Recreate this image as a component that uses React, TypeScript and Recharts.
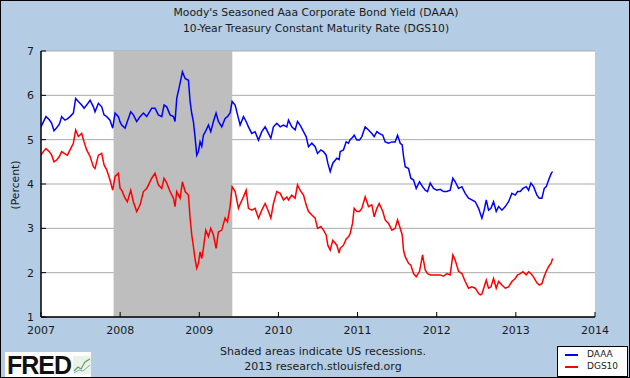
import React from 'react';
import { LineChart, Line, XAxis, YAxis, CartesianGrid, ReferenceArea } from 'recharts';

// Decimal-year dates (sampled readings)
const dates = [
  2007.000, 2007.030, 2007.063, 2007.105, 2007.135, 2007.164, 2007.198, 2007.232, 2007.261, 2007.303,
  2007.333, 2007.367, 2007.409, 2007.438, 2007.472, 2007.514, 2007.544, 2007.577, 2007.620, 2007.662,
  2007.683, 2007.725, 2007.767, 2007.797, 2007.830, 2007.872, 2007.906, 2007.936, 2007.978, 2007.999,
  2008.020, 2008.062, 2008.091, 2008.134, 2008.167, 2008.209, 2008.252, 2008.294, 2008.336, 2008.399,
  2008.441, 2008.483, 2008.526, 2008.555, 2008.589, 2008.631, 2008.673, 2008.694, 2008.715, 2008.757,
  2008.787, 2008.821, 2008.863, 2008.884, 2008.905, 2008.926, 2008.947, 2008.968, 2008.989, 2009.010,
  2009.031, 2009.052, 2009.082, 2009.116, 2009.145, 2009.179, 2009.212, 2009.242, 2009.284, 2009.326,
  2009.356, 2009.389, 2009.415, 2009.453, 2009.495, 2009.516, 2009.558, 2009.592, 2009.621, 2009.663,
  2009.705, 2009.748, 2009.790, 2009.832, 2009.874, 2009.904, 2009.937, 2009.979, 2010.022, 2010.064,
  2010.106, 2010.127, 2010.169, 2010.211, 2010.241, 2010.274, 2010.317, 2010.350, 2010.380, 2010.422,
  2010.464, 2010.494, 2010.536, 2010.569, 2010.603, 2010.624, 2010.654, 2010.687, 2010.738, 2010.767,
  2010.780, 2010.822, 2010.856, 2010.885, 2010.906, 2010.936, 2010.957, 2010.991, 2011.024, 2011.054,
  2011.096, 2011.138, 2011.180, 2011.210, 2011.244, 2011.273, 2011.319, 2011.349, 2011.391, 2011.433,
  2011.475, 2011.505, 2011.539, 2011.564, 2011.581, 2011.602, 2011.644, 2011.673, 2011.707, 2011.741,
  2011.783, 2011.821, 2011.855, 2011.884, 2011.918, 2011.960, 2012.002, 2012.044, 2012.086, 2012.128,
  2012.170, 2012.204, 2012.234, 2012.276, 2012.318, 2012.360, 2012.402, 2012.444, 2012.487, 2012.529,
  2012.550, 2012.571, 2012.600, 2012.626, 2012.655, 2012.685, 2012.718, 2012.752, 2012.782, 2012.824,
  2012.866, 2012.908, 2012.950, 2012.992, 2013.022, 2013.055, 2013.089, 2013.131, 2013.161, 2013.190,
  2013.224, 2013.266, 2013.296, 2013.329, 2013.359, 2013.384, 2013.414, 2013.447, 2013.464,
];

// Moody's Seasoned Aaa Corporate Bond Yield (DAAA), percent
const daaa = [
  5.29, 5.40, 5.52, 5.45, 5.37, 5.20, 5.27, 5.35, 5.52, 5.44,
  5.47, 5.52, 5.60, 5.93, 5.86, 5.78, 5.71, 5.78, 5.89, 5.74,
  5.63, 5.82, 5.74, 5.56, 5.52, 5.44, 5.26, 5.60, 5.52, 5.40,
  5.33, 5.26, 5.41, 5.63, 5.56, 5.41, 5.52, 5.60, 5.52, 5.71,
  5.71, 5.56, 5.52, 5.78, 5.74, 5.56, 5.52, 5.41, 5.93, 6.27,
  6.53, 6.38, 6.34, 5.86, 5.59, 5.40, 5.05, 4.65, 4.73, 4.95,
  4.85, 5.10, 5.20, 5.33, 5.18, 5.41, 5.60, 5.41, 5.29, 5.48,
  5.52, 5.60, 5.86, 5.78, 5.48, 5.33, 5.52, 5.41, 5.29, 5.14,
  5.18, 4.99, 5.18, 5.29, 5.14, 5.03, 5.29, 5.37, 5.29, 5.33,
  5.29, 5.44, 5.29, 5.22, 5.41, 5.33, 5.18, 5.07, 4.84, 4.92,
  4.84, 4.69, 4.77, 4.73, 4.65, 4.47, 4.28, 4.47, 4.58, 4.55,
  4.73, 4.77, 4.95, 4.92, 5.00, 5.05, 5.10, 4.99, 4.99, 5.07,
  5.29, 5.22, 5.14, 5.07, 5.18, 5.14, 5.10, 4.95, 4.92, 4.95,
  4.95, 5.10, 4.92, 4.88, 4.62, 4.39, 4.35, 4.13, 4.09, 3.90,
  4.05, 3.94, 3.86, 3.83, 4.02, 3.90, 3.86, 3.88, 3.83, 3.83,
  3.86, 4.13, 4.05, 3.90, 3.94, 3.79, 3.68, 3.64, 3.60, 3.45,
  3.34, 3.23, 3.41, 3.64, 3.41, 3.45, 3.60, 3.38, 3.49, 3.41,
  3.49, 3.60, 3.79, 3.75, 3.83, 3.83, 3.90, 3.94, 3.86, 4.02,
  3.94, 3.75, 3.68, 3.68, 3.90, 3.94, 4.09, 4.24, 4.28,
];

// 10-Year Treasury Constant Maturity Rate (DGS10), percent
const dgs10 = [
  4.65, 4.73, 4.80, 4.73, 4.65, 4.50, 4.54, 4.62, 4.73, 4.68,
  4.65, 4.77, 4.92, 5.22, 5.07, 5.14, 4.95, 4.77, 4.62, 4.39,
  4.35, 4.65, 4.69, 4.43, 4.32, 4.09, 3.86, 4.17, 4.24, 3.90,
  3.86, 3.68, 3.60, 3.86, 3.60, 3.38, 3.53, 3.83, 3.90, 4.13,
  4.24, 3.98, 3.90, 4.13, 4.02, 3.83, 3.68, 3.49, 3.83, 3.68,
  4.05, 3.83, 3.75, 3.23, 2.85, 2.59, 2.30, 2.10, 2.21, 2.47,
  2.32, 2.55, 2.96, 2.81, 3.00, 2.85, 2.55, 2.92, 2.96, 3.23,
  3.15, 3.49, 3.94, 3.83, 3.45, 3.55, 3.71, 3.86, 3.45, 3.41,
  3.45, 3.23, 3.41, 3.56, 3.38, 3.23, 3.56, 3.83, 3.79, 3.64,
  3.71, 3.64, 3.75, 3.68, 3.98, 3.86, 3.75, 3.53, 3.38, 3.30,
  3.23, 3.00, 3.04, 2.96, 2.85, 2.62, 2.51, 2.73, 2.62, 2.44,
  2.55, 2.62, 2.76, 2.81, 2.88, 3.11, 3.45, 3.38, 3.38, 3.45,
  3.71, 3.49, 3.53, 3.26, 3.45, 3.56, 3.38, 3.19, 3.11, 2.96,
  3.00, 3.19, 3.00, 2.85, 2.50, 2.36, 2.21, 2.17, 1.98, 1.91,
  2.03, 2.40, 2.06, 1.98, 1.95, 1.95, 1.95, 1.95, 1.92, 1.98,
  1.95, 2.40, 2.28, 2.03, 1.98, 1.80, 1.65, 1.68, 1.65, 1.53,
  1.50, 1.52, 1.68, 1.83, 1.65, 1.68, 1.87, 1.65, 1.80, 1.72,
  1.65, 1.68, 1.80, 1.87, 1.95, 1.98, 2.02, 1.95, 2.02, 1.98,
  1.90, 1.77, 1.72, 1.75, 1.92, 2.03, 2.14, 2.22, 2.32,
];

const yearTicks = [2007, 2008, 2009, 2010, 2011, 2012, 2013, 2014];
const percentTicks = [1, 2, 3, 4, 5, 6, 7];
const recessionStart = 2007.917; // Dec 2007
const recessionEnd = 2009.417; // Jun 2009

const rows = dates.map((d, i) => ({ date: d, DAAA: daaa[i], DGS10: dgs10[i] }));

const FONT = '"DejaVu Sans", Verdana, sans-serif';
const BG = '#B4CDE4';

const XTick = (props: any) => {
  const { x, y, payload } = props;
  return (
    <g>
      <line x1={x} y1={y} x2={x} y2={y - 5} stroke="#000" strokeWidth={1} />
      <text x={x} y={y + 17} textAnchor="middle" fontSize={11} fontFamily={FONT} fill="#1a1a1a">
        {payload.value}
      </text>
    </g>
  );
};

const YTick = (props: any) => {
  const { x, y, payload } = props;
  return (
    <g>
      <line x1={x} y1={y} x2={x + 5} y2={y} stroke="#000" strokeWidth={1} />
      <text x={x - 7} y={y + 4} textAnchor="end" fontSize={11} fontFamily={FONT} fill="#1a1a1a">
        {payload.value}
      </text>
    </g>
  );
};

export default function App() {
  return (
    <div
      style={{
        position: 'absolute',
        left: 0,
        top: 0,
        width: 630,
        height: 378,
        background: BG,
        boxSizing: 'border-box',
        border: '1px solid #000',
        fontFamily: FONT,
        overflow: 'hidden',
      }}
    >
      <div style={{ position: 'absolute', left: -1, top: -1, width: 630, height: 378 }}>
        <LineChart
          width={630}
          height={378}
          data={rows}
          margin={{ top: 51, right: 35, bottom: 41, left: -1 }}
        >
          <CartesianGrid vertical={false} stroke="#AAAAAA" fill="#FFFFFF" fillOpacity={1} />
          <ReferenceArea
            x1={recessionStart}
            x2={recessionEnd}
            y1={1}
            y2={7}
            fill="#BEBEBE"
            fillOpacity={1}
            stroke="none"
            ifOverflow="hidden"
          />
          <XAxis
            dataKey="date"
            type="number"
            domain={[2007, 2014]}
            ticks={yearTicks}
            interval={0}
            height={20}
            tickSize={0}
            tickMargin={0}
            tick={<XTick />}
            axisLine={{ stroke: '#000', strokeWidth: 1.5 }}
            allowDataOverflow
          />
          <YAxis
            type="number"
            domain={[1, 7]}
            ticks={percentTicks}
            interval={0}
            width={42}
            tickSize={0}
            tickMargin={0}
            tick={<YTick />}
            axisLine={{ stroke: '#000', strokeWidth: 1.5 }}
            allowDataOverflow
          />
          <Line
            dataKey="DAAA"
            type="linear"
            stroke="#0000FF"
            strokeWidth={1.5}
            dot={false}
            isAnimationActive={false}
          />
          <Line
            dataKey="DGS10"
            type="linear"
            stroke="#FF0000"
            strokeWidth={1.5}
            dot={false}
            isAnimationActive={false}
          />
        </LineChart>
      </div>

      <div style={{ position: 'absolute', left: 0, top: 4, width: 630, textAlign: 'center', fontSize: 10.8, color: '#1a1a1a', lineHeight: '16px' }}>
        <div>Moody's Seasoned Aaa Corporate Bond Yield (DAAA)</div>
        <div>10-Year Treasury Constant Maturity Rate (DGS10)</div>
      </div>

      <div
        style={{
          position: 'absolute',
          left: 14,
          top: 184,
          transform: 'translate(-50%, -50%) rotate(-90deg)',
          fontSize: 10.8,
          color: '#1a1a1a',
          whiteSpace: 'nowrap',
        }}
      >
        (Percent)
      </div>

      <div style={{ position: 'absolute', left: 0, top: 343, width: 644, textAlign: 'center', fontSize: 11, color: '#1a1a1a', lineHeight: '15px' }}>
        <div>Shaded areas indicate US recessions.</div>
        <div>2013 research.stlouisfed.org</div>
      </div>

      <div
        style={{
          position: 'absolute',
          left: 4,
          top: 351,
          width: 86,
          height: 27,
          background: '#FFFFFF',
        }}
      >
        <span
          style={{
            position: 'absolute',
            left: 2,
            top: 0,
            fontFamily: '"Liberation Sans", Arial, sans-serif',
            fontWeight: 'bold',
            fontSize: 25,
            letterSpacing: -1,
            color: '#111',
            lineHeight: '27px',
          }}
        >
          FRED
        </span>
        <svg style={{ position: 'absolute', left: 68, top: 4 }} width={18} height={18}>
          <rect x={0} y={0} width={18} height={18} fill="#EAF2EA" />
          <polyline points="1,15 5,11 8,13 12,6 17,3" fill="none" stroke="#6A9A5A" strokeWidth={1.2} />
          <polyline points="1,17 6,14 10,15 17,9" fill="none" stroke="#7FA6C8" strokeWidth={1} />
        </svg>
      </div>

      <div
        style={{
          position: 'absolute',
          left: 556,
          top: 345,
          width: 71,
          height: 31,
          background: '#FFFFFF',
          border: '1px solid #000',
          boxSizing: 'border-box',
          fontSize: 9,
          color: '#1a1a1a',
        }}
      >
        <div style={{ position: 'absolute', left: 7, top: 7, width: 13, height: 2, background: '#0000FF' }} />
        <div style={{ position: 'absolute', left: 29, top: 2, lineHeight: '11px' }}>DAAA</div>
        <div style={{ position: 'absolute', left: 7, top: 19, width: 13, height: 2, background: '#FF0000' }} />
        <div style={{ position: 'absolute', left: 29, top: 14, lineHeight: '11px' }}>DGS10</div>
      </div>
    </div>
  );
}
